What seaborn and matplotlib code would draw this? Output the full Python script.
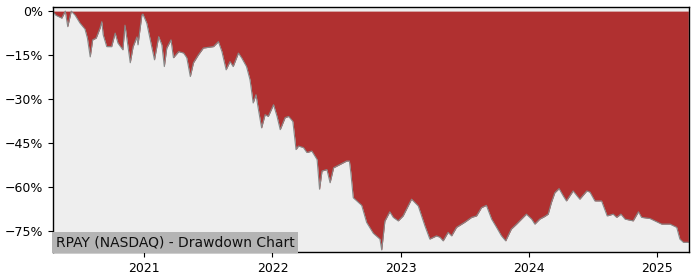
import matplotlib
matplotlib.use("Agg")
import matplotlib.pyplot as plt
import matplotlib.ticker as mticker
import matplotlib.dates as mdates
import seaborn as sns
import pandas as pd

dates = [
    "2020-04-17", "2020-04-24", "2020-05-11", "2020-05-21", "2020-05-28", "2020-06-07",
    "2020-06-18", "2020-07-02", "2020-07-16", "2020-07-23", "2020-07-31", "2020-08-07",
    "2020-08-17", "2020-08-28", "2020-09-02", "2020-09-06", "2020-09-16", "2020-09-30",
    "2020-10-10", "2020-10-18", "2020-11-01", "2020-11-07", "2020-11-22", "2020-11-30",
    "2020-12-11", "2020-12-14", "2020-12-25", "2020-12-28", "2021-01-08", "2021-01-18",
    "2021-01-30", "2021-02-11", "2021-02-20", "2021-02-27", "2021-03-06", "2021-03-18",
    "2021-03-25", "2021-04-09", "2021-04-23", "2021-05-02", "2021-05-12", "2021-05-21",
    "2021-06-04", "2021-06-18", "2021-07-17", "2021-07-31", "2021-08-10", "2021-08-22",
    "2021-09-02", "2021-09-11", "2021-09-26", "2021-10-05", "2021-10-19", "2021-10-29",
    "2021-11-07", "2021-11-15", "2021-11-22", "2021-12-01", "2021-12-11", "2021-12-20",
    "2022-01-04", "2022-01-14", "2022-01-23", "2022-02-06", "2022-02-16", "2022-02-28",
    "2022-03-06", "2022-03-09", "2022-03-16", "2022-03-30", "2022-04-09", "2022-04-23",
    "2022-05-08", "2022-05-15", "2022-05-22", "2022-06-05", "2022-06-14", "2022-06-24",
    "2022-07-12", "2022-07-31", "2022-08-08", "2022-08-12", "2022-08-19", "2022-09-12",
    "2022-09-26", "2022-10-15", "2022-11-03", "2022-11-08", "2022-11-17", "2022-12-01",
    "2022-12-11", "2022-12-25", "2023-01-08", "2023-02-01", "2023-02-20", "2023-03-11",
    "2023-03-25", "2023-04-13", "2023-04-23", "2023-05-02", "2023-05-16", "2023-05-26",
    "2023-06-09", "2023-07-02", "2023-07-22", "2023-08-05", "2023-08-19", "2023-09-02",
    "2023-09-17", "2023-10-01", "2023-10-15", "2023-10-27", "2023-11-12", "2023-11-27",
    "2023-12-11", "2023-12-25", "2024-01-09", "2024-01-18", "2024-02-01", "2024-02-15",
    "2024-02-25", "2024-03-05", "2024-03-15", "2024-03-27", "2024-04-08", "2024-04-17",
    "2024-05-06", "2024-05-25", "2024-06-14", "2024-06-23", "2024-07-07", "2024-07-26",
    "2024-08-11", "2024-08-28", "2024-09-07", "2024-09-19", "2024-10-01", "2024-10-24",
    "2024-11-08", "2024-11-17", "2024-12-11", "2024-12-25", "2025-01-13", "2025-02-06",
    "2025-02-25", "2025-03-06", "2025-03-16", "2025-03-30",
]

drawdown = [
    -0.3, -1.4, -2.4, 0.0, -5.3, 0.0,
    -1.4, -4.1, -6.1, -9.2, -15.6, -9.8,
    -9.2, -5.8, -3.6, -8.1, -12.1, -12.1,
    -7.5, -10.9, -13.2, -4.8, -17.6, -12.2,
    -8.8, -11.5, -1.4, -1.0, -4.1, -9.8,
    -16.6, -8.7, -11.5, -18.9, -12.6, -9.8,
    -15.9, -13.8, -14.3, -15.9, -22.3, -17.6,
    -14.9, -12.6, -12.1, -10.4, -13.8, -20.0,
    -17.2, -18.9, -14.3, -15.9, -18.9, -23.4,
    -31.3, -28.5, -33.6, -39.8, -35.3, -35.9,
    -31.9, -35.9, -40.4, -36.3, -35.9, -37.6,
    -43.8, -47.2, -46.0, -46.5, -48.2, -47.7,
    -50.6, -60.7, -54.5, -54.0, -58.5, -53.4,
    -52.3, -51.1, -51.1, -55.0, -63.6, -66.2,
    -72.0, -75.7, -77.7, -81.4, -71.6, -68.4,
    -70.3, -71.5, -69.8, -64.1, -66.4, -73.2,
    -77.7, -76.6, -77.1, -78.3, -75.4, -76.6,
    -73.7, -72.0, -70.3, -69.8, -67.0, -66.2,
    -70.9, -73.7, -76.6, -78.3, -74.3, -72.6,
    -70.9, -69.2, -70.9, -72.6, -70.9, -70.0,
    -69.2, -65.3, -61.9, -60.5, -63.0, -64.7,
    -61.3, -64.1, -61.3, -61.7, -64.7, -64.7,
    -69.8, -69.2, -70.3, -69.2, -70.9, -71.5,
    -68.4, -70.3, -70.7, -71.5, -72.6, -72.6,
    -73.7, -77.7, -78.8, -78.8,
]

yticks = [0, -15, -30, -45, -60, -75]
title_text = "RPAY (NASDAQ) - Drawdown Chart"

df = pd.DataFrame({"date": pd.to_datetime(dates), "dd": drawdown})

sns.set_theme(style="ticks")
plt.rcParams["font.family"] = ["DejaVu Sans"]

fig = plt.figure(figsize=(7, 2.8), dpi=100)
ax = fig.add_axes([0.0757, 0.1, 0.9086, 0.875])
ax.set_facecolor("#eeeeee")

ax.fill_between(df["date"], df["dd"], 0, color="#b03030", linewidth=0)
sns.lineplot(data=df, x="date", y="dd", ax=ax, color="#888888", linewidth=0.8)

ax.set_xlim(pd.Timestamp("2020-04-16"), pd.Timestamp("2025-04-01"))
ax.set_ylim(-82.1, 1.4)
ax.set_yticks(yticks)
ax.yaxis.set_major_formatter(mticker.PercentFormatter(decimals=0))
ax.xaxis.set_major_locator(mdates.YearLocator())
ax.xaxis.set_major_formatter(mdates.DateFormatter("%Y"))
ax.set_xlabel("")
ax.set_ylabel("")
ax.tick_params(labelsize=9, length=3.5, width=0.8, colors="black")
for s in ax.spines.values():
    s.set_visible(True)
    s.set_color("black")
    s.set_linewidth(1.0)

ax.text(0.004, 0.012, title_text, transform=ax.transAxes, fontsize=10,
        ha="left", va="bottom", color="#111111",
        bbox=dict(facecolor="#b4b4b4", edgecolor="none", pad=2.5))

fig.savefig("out.png", dpi=100)
